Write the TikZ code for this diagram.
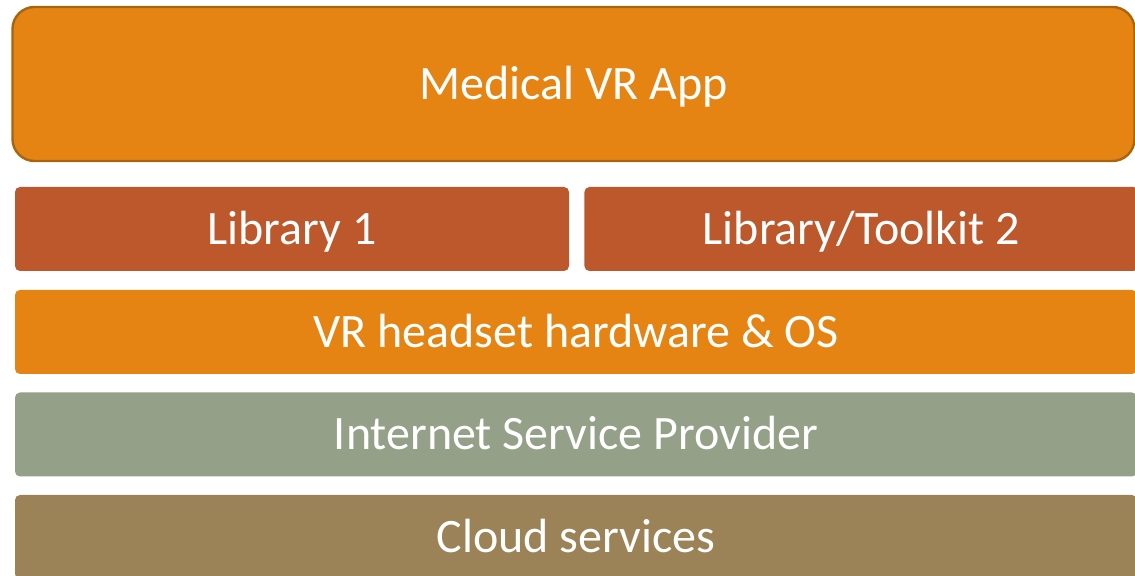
\documentclass[tikz,border=0pt]{standalone}
\usepackage{fontspec}
\setmainfont{Carlito}
\usetikzlibrary{positioning}

\definecolor{apporange}{HTML}{E58413}
\definecolor{appedge}{HTML}{A8650F}
\definecolor{librust}{HTML}{BD582C}
\definecolor{hworange}{HTML}{E68413}
\definecolor{ispgreen}{HTML}{94A088}
\definecolor{cloudbrown}{HTML}{9B8357}

\begin{document}
\begin{tikzpicture}[x=0.5pt,y=-0.5pt,
	layer/.style={rectangle, rounded corners=2.5pt, inner sep=0pt, text=white, font=\fontsize{24}{28}\selectfont, text height=15.5pt, text depth=0pt, minimum height=42pt},
	wide/.style={layer, minimum width=561pt},
	half/.style={layer, minimum width=277pt}]

	\useasboundingbox (0,0) rectangle (1135,576);
	\clip (0,0) rectangle (1135,576);

	% app on top
	\node[layer, fill=apporange, draw=appedge, line width=1.2pt, rounded corners=11pt, minimum width=561pt, minimum height=77pt] (app) at (573.5,84) {Medical VR App};

	% libraries side by side
	\node[half, fill=librust] (lib1) at (292,229) {Library 1};
	\node[half, fill=librust, anchor=west] (lib2) at (584,229) {Library/Toolkit 2};

	% lower layers
	\node[wide, fill=hworange] (hw) at (576,332) {VR headset hardware \& OS};
	\node[wide, fill=ispgreen] (isp) at (576,434.5) {Internet Service Provider};
	\node[wide, fill=cloudbrown] (cloud) at (576,537) {Cloud services};
\end{tikzpicture}
\end{document}
